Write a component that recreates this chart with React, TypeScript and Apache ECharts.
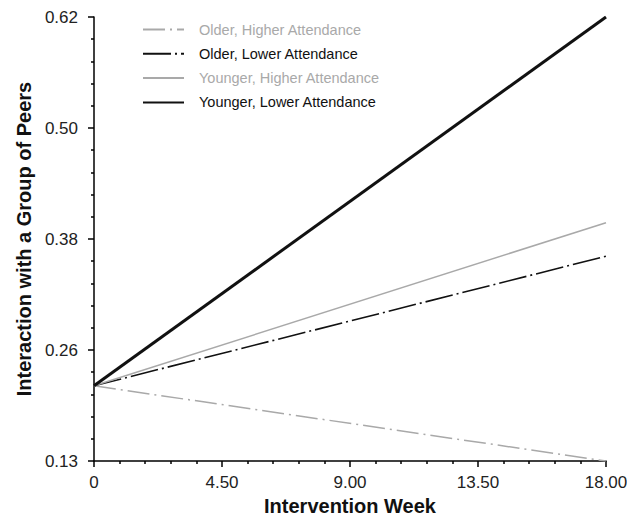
import React, { useEffect, useRef } from "react";
import * as echarts from "echarts";

const weeks = [0, 18];
const olderHigher = [0.213, 0.13];
const olderLower = [0.213, 0.356];
const youngerHigher = [0.213, 0.393];
const youngerLower = [0.213, 0.62];
const seriesNames = [
  "Older, Higher Attendance",
  "Older, Lower Attendance",
  "Younger, Higher Attendance",
  "Younger, Lower Attendance",
];
const xTickLabels = ["0", "4.50", "9.00", "13.50", "18.00"];
const yTickLabels = ["0.13", "0.26", "0.38", "0.50", "0.62"];
const xMin = 0;
const xMax = 18;
const yMin = 0.13;
const yMax = 0.62;

const GRAY = "#a9a9a9";
const BLACK = "#111111";
const FONT = "Liberation Sans";

const spread = (lo: number, hi: number, n: number) => {
  const out: number[] = [];
  for (let i = 0; i <= n; i++) out.push(lo + (i * (hi - lo)) / n);
  return out;
};

export default function App() {
  const ref = useRef<HTMLDivElement>(null);
  useEffect(() => {
    if (!ref.current) return;
    const chart = echarts.init(ref.current, undefined, { renderer: "svg" });
    const yMajor = spread(yMin, yMax, 4);
    const yMinor = spread(yMin, yMax, 20).filter((_, i) => i % 5 !== 0);
    const xMajor = spread(xMin, xMax, 4);
    const xMinor = spread(xMin, xMax, 20).filter((_, i) => i % 5 !== 0);
    const nearest = (vals: number[], labels: string[]) => (v: number) => {
      let best = 0;
      vals.forEach((m, i) => {
        if (Math.abs(m - v) < Math.abs(vals[best] - v)) best = i;
      });
      return labels[best];
    };
    const toPairs = (ys: number[]) => weeks.map((w, i) => [w, ys[i]]);
    const lineSeries = (name: string, ys: number[], color: string, width: number, dash: any) => ({
      name,
      type: "line",
      data: toPairs(ys),
      symbol: "none",
      showSymbol: false,
      xAxisIndex: 0,
      yAxisIndex: 0,
      lineStyle: { color, width, type: dash },
      itemStyle: { color },
      z: 3,
    });
    const axisLineStyle = { color: "#000", width: 1.5 };
    const tickLine = { color: "#000", width: 1.5 };
    const nameStyle = { fontSize: 20, fontWeight: "bold", color: "#111", fontFamily: FONT };
    const labelStyle = { fontSize: 17, color: "#222", fontFamily: FONT };
    chart.setOption({
      animation: false,
      backgroundColor: "#fff",
      textStyle: { fontFamily: FONT },
      grid: { left: 94, right: 21, top: 17, bottom: 60, containLabel: false, outerBoundsMode: "none" },
      legend: {
        orient: "vertical",
        left: 142,
        top: 22,
        padding: 0,
        itemWidth: 41,
        itemHeight: 14,
        itemGap: 9.3,
        itemStyle: { opacity: 0 },
        textStyle: { fontSize: 14.5, fontFamily: FONT, padding: [0, 0, 0, 10] },
        data: [
          { name: seriesNames[0], textStyle: { color: GRAY } },
          { name: seriesNames[1], textStyle: { color: BLACK } },
          { name: seriesNames[2], textStyle: { color: GRAY } },
          { name: seriesNames[3], textStyle: { color: BLACK } },
        ],
      },
      xAxis: [
        {
          type: "value",
          min: xMin,
          max: xMax,
          name: "Intervention Week",
          nameLocation: "middle",
          nameGap: 35,
          nameTextStyle: nameStyle,
          axisLine: { show: true, onZero: false, lineStyle: axisLineStyle },
          axisTick: { show: true, inside: false, length: 6, customValues: xMajor, lineStyle: tickLine },
          splitLine: { show: false },
          axisLabel: {
            margin: 13,
            ...labelStyle,
            customValues: xMajor,
            formatter: nearest(xMajor, xTickLabels),
          },
        },
        {
          type: "value",
          min: xMin,
          max: xMax,
          position: "bottom",
          offset: 0,
          axisLine: { show: false },
          axisTick: { show: true, inside: false, length: 3, customValues: xMinor, lineStyle: tickLine },
          axisLabel: { show: false },
          splitLine: { show: false },
        },
      ],
      yAxis: [
        {
          type: "value",
          min: yMin,
          max: yMax,
          name: "Interaction with a Group of Peers",
          nameLocation: "middle",
          nameGap: 60,
          nameTextStyle: nameStyle,
          axisLine: { show: true, onZero: false, lineStyle: axisLineStyle },
          axisTick: { show: true, inside: false, length: 6, customValues: yMajor, lineStyle: tickLine },
          splitLine: { show: false },
          axisLabel: {
            margin: 16,
            ...labelStyle,
            customValues: yMajor,
            formatter: nearest(yMajor, yTickLabels),
          },
        },
        {
          type: "value",
          min: yMin,
          max: yMax,
          position: "left",
          offset: 0,
          axisLine: { show: false },
          axisTick: { show: true, inside: false, length: 3, customValues: yMinor, lineStyle: tickLine },
          axisLabel: { show: false },
          splitLine: { show: false },
        },
      ],
      series: [
        lineSeries(seriesNames[0], olderHigher, GRAY, 1.5, [22, 5, 2, 5]),
        lineSeries(seriesNames[1], olderLower, BLACK, 1.6, [28, 4, 2, 4]),
        lineSeries(seriesNames[2], youngerHigher, GRAY, 1.5, "solid"),
        lineSeries(seriesNames[3], youngerLower, BLACK, 3, "solid"),
      ],
    });
    return () => chart.dispose();
  }, []);
  return (
    <div
      ref={ref}
      style={{ position: "fixed", left: 0, top: 0, width: 627, height: 521, background: "#fff" }}
    />
  );
}
